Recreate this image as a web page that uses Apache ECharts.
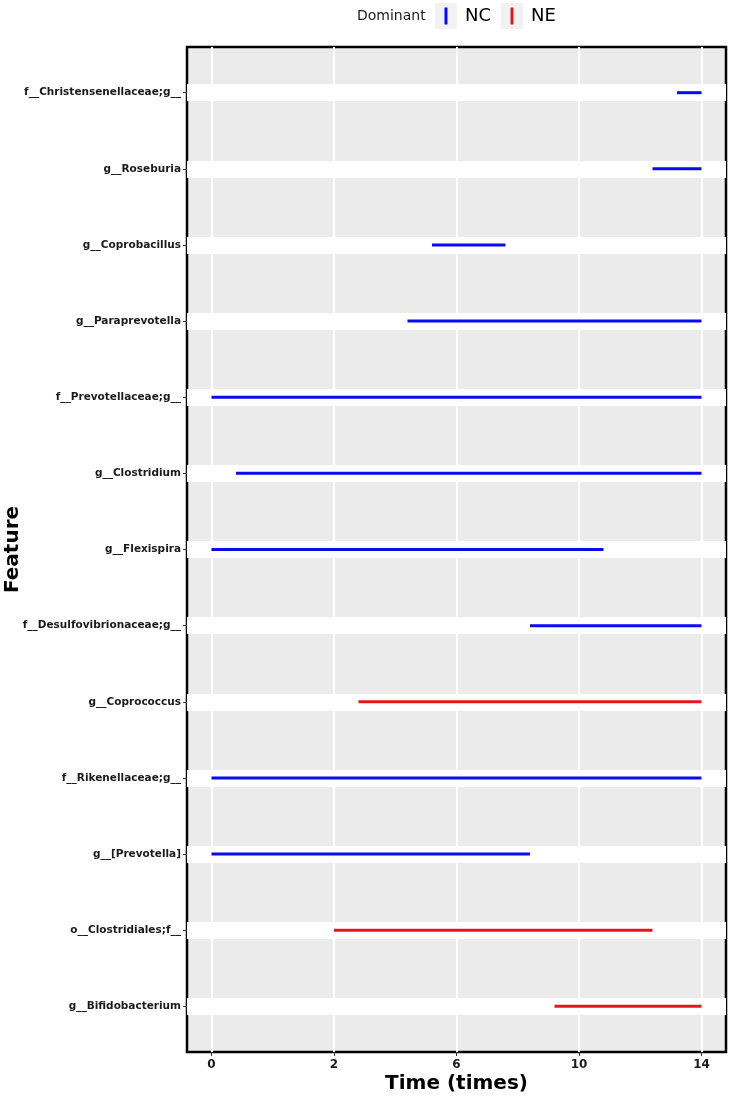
<!DOCTYPE html>
<html>
<head>
<meta charset="utf-8">
<script src="https://cdn.jsdelivr.net/npm/echarts@6/dist/echarts.min.js"></script>
<style>html,body{margin:0;padding:0;background:#fff}#c{width:731px;height:1101px}</style>
</head>
<body>
<div id="c"></div>
<script>
// Features from top to bottom
const features = [
  'f__Christensenellaceae;g__', 'g__Roseburia', 'g__Coprobacillus', 'g__Paraprevotella',
  'f__Prevotellaceae;g__', 'g__Clostridium', 'g__Flexispira', 'f__Desulfovibrionaceae;g__',
  'g__Coprococcus', 'f__Rikenellaceae;g__', 'g__[Prevotella]', 'o__Clostridiales;f__',
  'g__Bifidobacterium'
];
// segment start / end in axis units (tick positions 0,2,4,6,8 labelled 0,2,6,10,14)
const starts = [7.6, 7.2, 3.6, 3.2, 0, 0.4, 0, 5.2, 2.4, 0, 0, 2.0, 5.6];
const ends   = [8, 8, 4.8, 8, 8, 8, 6.4, 8, 8, 8, 5.2, 7.2, 8];
const dominant = ['NC','NC','NC','NC','NC','NC','NC','NC','NE','NC','NC','NE','NE'];
const groups = ['NC', 'NE'];
const groupColors = ['#0a0aee', '#e8141c'];
const tickPositions = [0, 2, 4, 6, 8];
const tickLabels = ['0', '2', '6', '10', '14'];

const FONT = 'DejaVu Sans';
const chart = echarts.init(document.getElementById('c'));

const series = groups.map((g, gi) => ({
  type: 'custom',
  name: g,
  data: features.map((f, i) => [starts[i], ends[i], i, dominant[i]]).filter(d => d[3] === g),
  encode: { x: [0, 1], y: 2 },
  renderItem: function (params, api) {
    const p1 = api.coord([api.value(0), api.value(2)]);
    const p2 = api.coord([api.value(1), api.value(2)]);
    return {
      type: 'line',
      shape: { x1: p1[0], y1: p1[1], x2: p2[0], y2: p2[1] },
      style: { stroke: groupColors[gi], lineWidth: 3, lineCap: 'butt' }
    };
  },
  z: 5
}));

// legend drawn as graphics
const legendG = [
  { type: 'text', left: 357, top: 9, style: { text: 'Dominant', font: '14px "' + FONT + '"', fill: '#1a1a1a' } }
];
const keyX = [435, 501];
groups.forEach((g, gi) => {
  legendG.push({ type: 'rect', shape: { x: keyX[gi], y: 3, width: 22, height: 26 }, style: { fill: '#f2f2f2' } });
  legendG.push({ type: 'line', shape: { x1: keyX[gi] + 11, y1: 7.5, x2: keyX[gi] + 11, y2: 24.5 }, style: { stroke: groupColors[gi], lineWidth: 3 } });
  legendG.push({ type: 'text', left: keyX[gi] + 30, top: 7, style: { text: g, font: '18px "' + FONT + '"', fill: '#000' } });
});

chart.setOption({
  animation: false,
  textStyle: { fontFamily: FONT },
  grid: {
    left: 187, top: 47, width: 539, height: 1005,
    containLabel: false, outerBoundsMode: 'none',
    show: true, backgroundColor: '#ebebeb', borderColor: '#000', borderWidth: 2.5, z: 0
  },
  xAxis: {
    type: 'value', min: -0.4, max: 8.4,
    name: 'Time (times)', nameLocation: 'middle', nameGap: 22, nameMoveOverlap: false,
    nameTextStyle: { fontFamily: FONT, fontWeight: 'bold', fontSize: 20, color: '#000' },
    axisLine: { show: false, onZero: false },
    axisTick: { show: true, customValues: tickPositions, length: 4, lineStyle: { color: '#333', width: 1 } },
    axisLabel: {
      customValues: tickPositions, margin: 7,
      formatter: v => tickLabels[tickPositions.indexOf(v)],
      fontFamily: FONT, fontWeight: 'bold', fontSize: 12, color: '#1a1a1a'
    },
    splitLine: { show: true, lineStyle: { color: '#fff', width: 2 } }
  },
  yAxis: {
    type: 'value', inverse: true, min: -0.6, max: 12.6,
    name: 'Feature', nameLocation: 'middle', nameGap: 164, nameRotate: 90, nameMoveOverlap: false,
    nameTextStyle: { fontFamily: FONT, fontWeight: 'bold', fontSize: 20, color: '#000' },
    axisLine: { show: false, onZero: false },
    axisTick: { show: true, customValues: features.map((f, i) => i), length: 4, lineStyle: { color: '#333', width: 1 } },
    axisLabel: {
      customValues: features.map((f, i) => i), margin: 6,
      formatter: v => features[v],
      fontFamily: FONT, fontWeight: 'bold', fontSize: 10.5, color: '#1a1a1a'
    },
    splitLine: { show: true, lineStyle: { color: '#fff', width: 17 } }
  },
  series: series,
  graphic: legendG
});
</script>
</body>
</html>
